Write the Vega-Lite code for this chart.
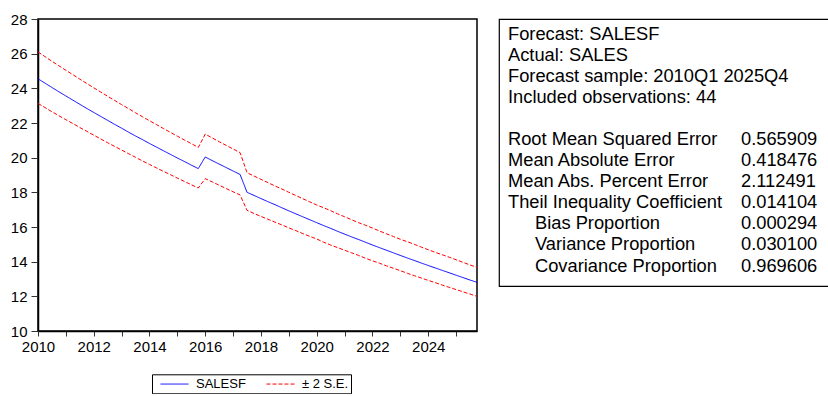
{
  "$schema": "https://vega.github.io/schema/vega-lite/v6.json",
  "padding": {"left": 9, "top": 11, "right": 0, "bottom": 0},
  "background": "white",
  "config": {
    "font": "Liberation Sans",
    "view": {"stroke": null},
    "axis": {"grid": false, "title": null, "labelColor": "black", "labelFont": "Liberation Sans", "domainColor": "black", "domainWidth": 1.5, "tickColor": "#333333", "labelOverlap": false}
  },
  "spacing": 18,
  "datasets": {
    "fc": [
      {"period": 2010, "SALESF": 24.55, "upper": 26.10, "lower": 23.13},
      {"period": 2010.25, "SALESF": 24.30, "upper": 25.83, "lower": 22.89},
      {"period": 2010.5, "SALESF": 24.05, "upper": 25.56, "lower": 22.65},
      {"period": 2010.75, "SALESF": 23.80, "upper": 25.30, "lower": 22.42},
      {"period": 2011, "SALESF": 23.56, "upper": 25.04, "lower": 22.19},
      {"period": 2011.25, "SALESF": 23.32, "upper": 24.79, "lower": 21.97},
      {"period": 2011.5, "SALESF": 23.08, "upper": 24.53, "lower": 21.74},
      {"period": 2011.75, "SALESF": 22.84, "upper": 24.28, "lower": 21.52},
      {"period": 2012, "SALESF": 22.61, "upper": 24.03, "lower": 21.30},
      {"period": 2012.25, "SALESF": 22.38, "upper": 23.79, "lower": 21.08},
      {"period": 2012.5, "SALESF": 22.15, "upper": 23.54, "lower": 20.86},
      {"period": 2012.75, "SALESF": 21.92, "upper": 23.30, "lower": 20.65},
      {"period": 2013, "SALESF": 21.70, "upper": 23.06, "lower": 20.44},
      {"period": 2013.25, "SALESF": 21.47, "upper": 22.83, "lower": 20.23},
      {"period": 2013.5, "SALESF": 21.25, "upper": 22.59, "lower": 20.02},
      {"period": 2013.75, "SALESF": 21.04, "upper": 22.36, "lower": 19.81},
      {"period": 2014, "SALESF": 20.82, "upper": 22.13, "lower": 19.61},
      {"period": 2014.25, "SALESF": 20.61, "upper": 21.91, "lower": 19.41},
      {"period": 2014.5, "SALESF": 20.40, "upper": 21.68, "lower": 19.21},
      {"period": 2014.75, "SALESF": 20.19, "upper": 21.46, "lower": 19.02},
      {"period": 2015, "SALESF": 19.98, "upper": 21.24, "lower": 18.82},
      {"period": 2015.25, "SALESF": 19.78, "upper": 21.02, "lower": 18.63},
      {"period": 2015.5, "SALESF": 19.57, "upper": 20.81, "lower": 18.44},
      {"period": 2015.75, "SALESF": 19.37, "upper": 20.59, "lower": 18.25},
      {"period": 2016, "SALESF": 20.04, "upper": 21.36, "lower": 18.79},
      {"period": 2016.25, "SALESF": 19.83, "upper": 21.14, "lower": 18.60},
      {"period": 2016.5, "SALESF": 19.63, "upper": 20.92, "lower": 18.41},
      {"period": 2016.75, "SALESF": 19.43, "upper": 20.71, "lower": 18.22},
      {"period": 2017, "SALESF": 19.23, "upper": 20.50, "lower": 18.03},
      {"period": 2017.25, "SALESF": 19.03, "upper": 20.29, "lower": 17.85},
      {"period": 2017.5, "SALESF": 18.00, "upper": 19.13, "lower": 16.96},
      {"period": 2017.75, "SALESF": 17.82, "upper": 18.94, "lower": 16.78},
      {"period": 2018, "SALESF": 17.64, "upper": 18.75, "lower": 16.61},
      {"period": 2018.25, "SALESF": 17.46, "upper": 18.56, "lower": 16.45},
      {"period": 2018.5, "SALESF": 17.29, "upper": 18.37, "lower": 16.28},
      {"period": 2018.75, "SALESF": 17.11, "upper": 18.19, "lower": 16.12},
      {"period": 2019, "SALESF": 16.93, "upper": 18.00, "lower": 15.95},
      {"period": 2019.25, "SALESF": 16.76, "upper": 17.82, "lower": 15.79},
      {"period": 2019.5, "SALESF": 16.59, "upper": 17.63, "lower": 15.62},
      {"period": 2019.75, "SALESF": 16.42, "upper": 17.45, "lower": 15.46},
      {"period": 2020, "SALESF": 16.25, "upper": 17.27, "lower": 15.31},
      {"period": 2020.25, "SALESF": 16.08, "upper": 17.11, "lower": 15.12},
      {"period": 2020.5, "SALESF": 15.92, "upper": 16.94, "lower": 14.96},
      {"period": 2020.75, "SALESF": 15.75, "upper": 16.76, "lower": 14.81},
      {"period": 2021, "SALESF": 15.59, "upper": 16.59, "lower": 14.66},
      {"period": 2021.25, "SALESF": 15.43, "upper": 16.42, "lower": 14.51},
      {"period": 2021.5, "SALESF": 15.28, "upper": 16.25, "lower": 14.36},
      {"period": 2021.75, "SALESF": 15.12, "upper": 16.10, "lower": 14.20},
      {"period": 2022, "SALESF": 14.96, "upper": 15.94, "lower": 14.05},
      {"period": 2022.25, "SALESF": 14.81, "upper": 15.77, "lower": 13.91},
      {"period": 2022.5, "SALESF": 14.66, "upper": 15.61, "lower": 13.76},
      {"period": 2022.75, "SALESF": 14.51, "upper": 15.45, "lower": 13.62},
      {"period": 2023, "SALESF": 14.36, "upper": 15.29, "lower": 13.48},
      {"period": 2023.25, "SALESF": 14.21, "upper": 15.15, "lower": 13.33},
      {"period": 2023.5, "SALESF": 14.07, "upper": 15.00, "lower": 13.19},
      {"period": 2023.75, "SALESF": 13.92, "upper": 14.84, "lower": 13.06},
      {"period": 2024, "SALESF": 13.78, "upper": 14.69, "lower": 12.92},
      {"period": 2024.25, "SALESF": 13.64, "upper": 14.54, "lower": 12.79},
      {"period": 2024.5, "SALESF": 13.50, "upper": 14.40, "lower": 12.65},
      {"period": 2024.75, "SALESF": 13.36, "upper": 14.26, "lower": 12.52},
      {"period": 2025, "SALESF": 13.22, "upper": 14.11, "lower": 12.39},
      {"period": 2025.25, "SALESF": 13.08, "upper": 13.96, "lower": 12.26},
      {"period": 2025.5, "SALESF": 12.94, "upper": 13.81, "lower": 12.13},
      {"period": 2025.75, "SALESF": 12.81, "upper": 13.67, "lower": 12.00}
    ],
    "stats": [
      {"row": 0, "level": "main", "name": "Forecast: SALESF"},
      {"row": 1, "level": "main", "name": "Actual: SALES"},
      {"row": 2, "level": "main", "name": "Forecast sample: 2010Q1 2025Q4"},
      {"row": 3, "level": "main", "name": "Included observations: 44"},
      {"row": 5, "level": "main", "name": "Root Mean Squared Error", "stat": "0.565909"},
      {"row": 6, "level": "main", "name": "Mean Absolute Error", "stat": "0.418476"},
      {"row": 7, "level": "main", "name": "Mean Abs. Percent Error", "stat": "2.112491"},
      {"row": 8, "level": "main", "name": "Theil Inequality Coefficient", "stat": "0.014104"},
      {"row": 9, "level": "sub", "name": "Bias Proportion", "stat": "0.000294"},
      {"row": 10, "level": "sub", "name": "Variance Proportion", "stat": "0.030100"},
      {"row": 11, "level": "sub", "name": "Covariance Proportion", "stat": "0.969606"}
    ]
  },
  "hconcat": [
    {
      "width": 439,
      "height": 312,
      "view": {"stroke": "black", "strokeWidth": 1.5},
      "data": {"name": "fc"},
      "encoding": {
        "x": {
          "field": "period",
          "type": "quantitative",
          "scale": {"domain": [2010, 2025.75], "nice": false, "zero": false},
          "axis": {
            "values": [2010, 2011, 2012, 2013, 2014, 2015, 2016, 2017, 2018, 2019, 2020, 2021, 2022, 2023, 2024, 2025],
            "format": "d",
            "labelExpr": "datum.value % 2 === 0 ? datum.label : ''",
            "labelFontSize": 15,
            "labelFlush": false,
            "labelOverlap": false,
            "tickSize": 5,
            "labelPadding": 3
          }
        }
      },
      "layer": [
        {
          "mark": {"type": "line", "strokeWidth": 1},
          "encoding": {
            "y": {
              "field": "SALESF",
              "type": "quantitative",
              "title": null,
              "scale": {"domain": [10, 28], "nice": false, "zero": false},
              "axis": {"values": [10, 12, 14, 16, 18, 20, 22, 24, 26, 28], "labelFontSize": 15, "tickSize": 7, "labelPadding": 4, "labelOverlap": false, "labelFlush": false, "labelBound": false}
            },
            "color": {
              "datum": "SALESF",
              "type": "nominal",
              "scale": {"domain": ["SALESF", "± 2 S.E."], "range": ["#0000ff", "#ff0000"]},
              "legend": {
                "orient": "none",
                "legendX": 114,
                "legendY": 355.3,
                "direction": "horizontal",
                "title": null,
                "strokeColor": "black",
                "padding": 2,
                "symbolType": "M-2,0H2",
                "symbolSize": 196,
                "symbolOffset": 13,
                "symbolStrokeWidth": 1,
                "labelFontSize": 13,
                "labelColor": "black",
                "labelOffset": 14,
                "columnPadding": 14
              }
            },
            "strokeDash": {
              "datum": "SALESF",
              "type": "nominal",
              "scale": {"domain": ["SALESF", "± 2 S.E."], "range": [[1, 0], [4, 2]]},
              "legend": {
                "orient": "none",
                "legendX": 114,
                "legendY": 355.3,
                "direction": "horizontal",
                "title": null,
                "strokeColor": "black",
                "padding": 2,
                "symbolType": "M-2,0H2",
                "symbolSize": 196,
                "symbolOffset": 13,
                "symbolStrokeWidth": 1,
                "labelFontSize": 13,
                "labelColor": "black",
                "labelOffset": 14,
                "columnPadding": 14
              }
            }
          }
        },
        {
          "mark": {"type": "line", "strokeWidth": 1},
          "encoding": {
            "y": {
              "field": "upper",
              "type": "quantitative",
              "title": null,
              "axis": {"values": [10, 12, 14, 16, 18, 20, 22, 24, 26, 28], "labelFontSize": 15, "tickSize": 7, "labelPadding": 4, "labelOverlap": false, "labelFlush": false, "labelBound": false}
            },
            "color": {"datum": "± 2 S.E.", "type": "nominal"},
            "strokeDash": {"datum": "± 2 S.E.", "type": "nominal"}
          }
        },
        {
          "mark": {"type": "line", "strokeWidth": 1},
          "encoding": {
            "y": {
              "field": "lower",
              "type": "quantitative",
              "title": null,
              "axis": {"values": [10, 12, 14, 16, 18, 20, 22, 24, 26, 28], "labelFontSize": 15, "tickSize": 7, "labelPadding": 4, "labelOverlap": false, "labelFlush": false, "labelBound": false}
            },
            "color": {"datum": "± 2 S.E.", "type": "nominal"},
            "strokeDash": {"datum": "± 2 S.E.", "type": "nominal"}
          }
        }
      ]
    },
    {
      "width": 350,
      "height": 267,
      "view": {"stroke": "black", "strokeWidth": 1.2},
      "data": {"name": "stats"},
      "encoding": {
        "y": {"field": "row", "type": "quantitative", "scale": {"domain": [0, 11], "range": [16, 247.5]}, "axis": null}
      },
      "layer": [
        {
          "transform": [{"filter": "datum.level === 'main'"}],
          "mark": {"type": "text", "align": "left", "baseline": "middle", "fontSize": 18.3, "font": "Liberation Sans", "color": "black"},
          "encoding": {
            "text": {"field": "name"},
            "x": {"datum": "name", "type": "nominal", "scale": {"type": "point", "domain": ["name", "stat"], "range": [9, 242], "padding": 0}, "axis": null}
          }
        },
        {
          "transform": [{"filter": "datum.level === 'sub'"}],
          "mark": {"type": "text", "align": "left", "baseline": "middle", "fontSize": 18.3, "font": "Liberation Sans", "color": "black", "dx": 27},
          "encoding": {
            "text": {"field": "name"},
            "x": {"datum": "name", "type": "nominal"}
          }
        },
        {
          "transform": [{"filter": "isValid(datum.stat)"}],
          "mark": {"type": "text", "align": "left", "baseline": "middle", "fontSize": 18.3, "font": "Liberation Sans", "color": "black"},
          "encoding": {
            "text": {"field": "stat"},
            "x": {"datum": "stat", "type": "nominal"}
          }
        }
      ]
    }
  ]
}
